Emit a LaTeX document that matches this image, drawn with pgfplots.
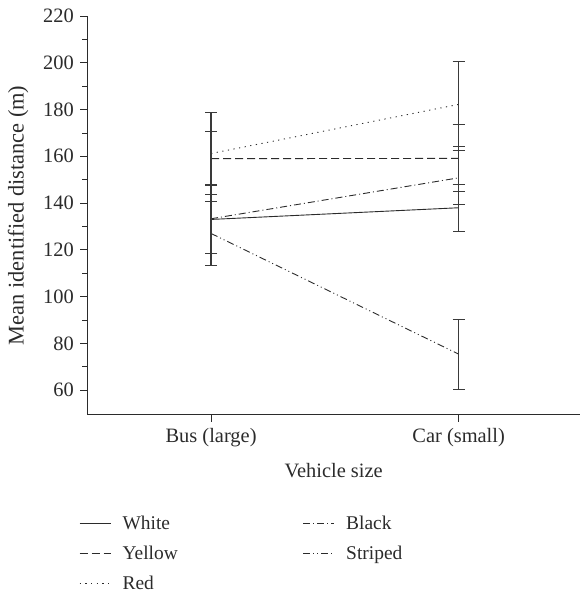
\documentclass[border=0pt]{standalone}
\usepackage{fontspec}
\setmainfont{Liberation Serif}
\usepackage{pgfplots}
\pgfplotsset{compat=1.18}
\definecolor{ln}{HTML}{2B2B2B}
\definecolor{eb}{HTML}{3A3A3A}
\begin{document}
\begin{tikzpicture}
\begin{axis}[
  scale only axis, width=492.7bp, height=398.7bp,
  xmin=-0.5, xmax=1.49, ymin=49.5, ymax=220,
  axis x line*=bottom, axis y line*=left,
  axis line style={line width=0.8bp, color=ln, -},
  xtick={0,1}, xticklabels={Bus (large), Car (small)},
  ytick={60,80,...,220}, minor ytick={70,90,...,210},
  tick align=outside, major tick length=7bp, minor tick length=5bp,
  tick style={line width=0.8bp, color=ln},
  every tick label/.append style={font=\fontsize{20.5}{24}\selectfont, text=ln},
  xticklabel style={yshift=-3bp},
  yticklabel style={xshift=-3bp},
  /pgf/number format/assume math mode=true,
  xlabel={Vehicle size}, ylabel={Mean identified distance (m)},
  xlabel style={at={(axis description cs:0.5,0)}, anchor=center, yshift=-56bp,
    font=\fontsize{20.5}{24}\selectfont, text=ln},
  ylabel style={at={(axis description cs:-0.1403,0.5)}, anchor=center,
    font=\fontsize{22.5}{26}\selectfont, text=ln},
  legend columns=2,
  legend cell align=left,
  legend style={at={(0,0)}, anchor=north west, xshift=-8.3bp, yshift=-99bp,
    draw=none, fill=none, font=\fontsize{19.5}{22}\selectfont, text=ln,
    row sep=11bp, inner sep=0pt,
    /tikz/every odd column/.append style={column sep=9.5bp},
    /tikz/every even column/.append style={column sep=123bp}},
  legend image code/.code={\draw[#1] (0bp,0bp) -- (31bp,0bp);},
  error bars/error bar style={eb, line width=1.2bp, solid},
  error bars/error mark=|,
  error bars/error mark options={eb, line width=1bp, mark size=6bp, solid},
]
\coordinate (ll) at (rel axis cs:0,0);
% White
\addplot[ln, line width=0.9bp, solid, mark=none,
  error bars/.cd, y dir=both, y explicit]
  coordinates {(0,133) +- (0,14.5) (1,138) +- (0,10)};
\addlegendentry{White}
% Black
\addplot[ln, line width=0.9bp, dash pattern=on 7bp off 3bp on 1bp off 3bp, mark=none,
  error bars/.cd, y dir=both, y explicit]
  coordinates {(0,133.3) +- (0,14.8) (1,150.8) +- (0,11.6)};
\addlegendentry{Black}
% Yellow
\addplot[ln, line width=0.9bp, dash pattern=on 8bp off 4bp, mark=none,
  error bars/.cd, y dir=both, y explicit]
  coordinates {(0,159) +- (0,11.4) (1,159.1) +- (0,14.3)};
\addlegendentry{Yellow}
% Striped
\addplot[ln, line width=0.9bp, dash pattern=on 7bp off 3bp on 1bp off 3bp on 1bp off 3bp, mark=none,
  error bars/.cd, y dir=both, y explicit]
  coordinates {(0,127) +- (0,13.8) (1,75.4) +- (0,15)};
\addlegendentry{Striped}
% Red
\addplot[ln, line width=0.9bp, dash pattern=on 1.2bp off 4.5bp, mark=none,
  error bars/.cd, y dir=both, y explicit]
  coordinates {(0,161.2) +- (0,17.7) (1,182.2) +- (0,18.2)};
\addlegendentry{Red}
\end{axis}
\pgfresetboundingbox
\path[use as bounding box] ([xshift=-87.3bp, yshift=-180.3bp]ll) rectangle ++(580bp,595bp);
\end{tikzpicture}
\end{document}
